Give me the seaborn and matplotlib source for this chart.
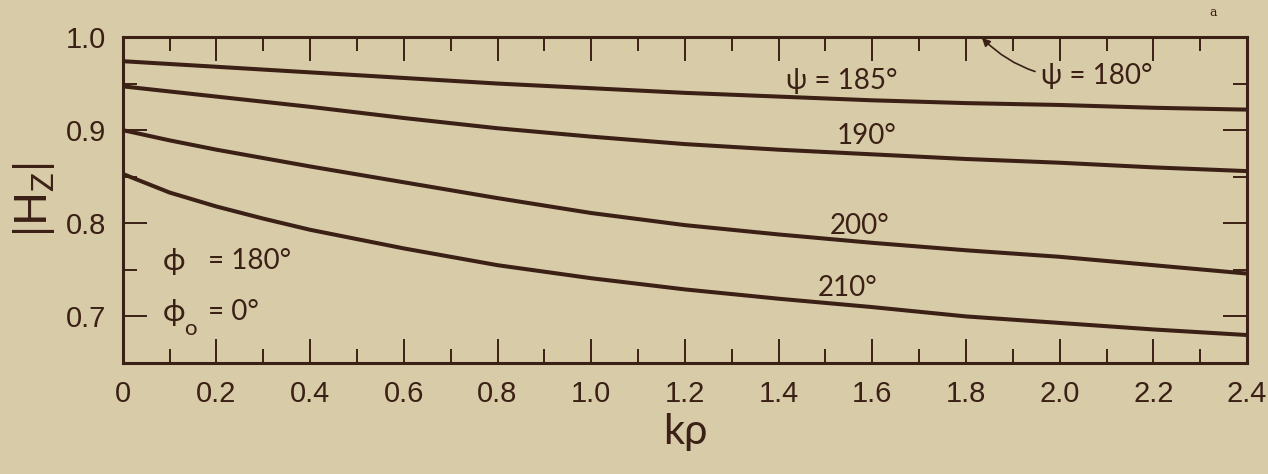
import matplotlib
matplotlib.use("Agg")
import matplotlib.pyplot as plt
import seaborn as sns
import pandas as pd
from matplotlib.ticker import MultipleLocator

# ---- data ----
x_185 = [0.0, 0.2, 0.4, 0.6, 0.8, 1.0, 1.2, 1.4, 1.6, 1.8, 2.0, 2.2, 2.4]
y_185 = [0.974, 0.968, 0.962, 0.956, 0.950, 0.945, 0.940, 0.936, 0.932, 0.929, 0.927, 0.924, 0.922]

x_190 = [0.0, 0.2, 0.4, 0.6, 0.8, 1.0, 1.2, 1.4, 1.6, 1.8, 2.0, 2.2, 2.4]
y_190 = [0.947, 0.936, 0.925, 0.913, 0.902, 0.893, 0.885, 0.879, 0.874, 0.869, 0.865, 0.860, 0.856]

x_200 = [0.0, 0.1, 0.2, 0.4, 0.6, 0.8, 1.0, 1.2, 1.4, 1.6, 1.8, 2.0, 2.2, 2.4]
y_200 = [0.900, 0.889, 0.879, 0.861, 0.844, 0.827, 0.811, 0.798, 0.788, 0.779, 0.771, 0.764, 0.755, 0.746]

x_210 = [0.0, 0.1, 0.2, 0.3, 0.4, 0.6, 0.8, 1.0, 1.2, 1.4, 1.6, 1.8, 2.0, 2.2, 2.4]
y_210 = [0.853, 0.833, 0.818, 0.805, 0.793, 0.773, 0.755, 0.741, 0.729, 0.719, 0.710, 0.700, 0.693, 0.686, 0.680]

psi_labels = ["\u03c8 = 185\u00b0", "190\u00b0", "200\u00b0", "210\u00b0"]
x_ticks = [0, 0.2, 0.4, 0.6, 0.8, 1.0, 1.2, 1.4, 1.6, 1.8, 2.0, 2.2, 2.4]
x_ticklabels = ["0", "0.2", "0.4", "0.6", "0.8", "1.0", "1.2", "1.4", "1.6", "1.8", "2.0", "2.2", "2.4"]
y_ticks = [0.7, 0.8, 0.9, 1.0]
y_ticklabels = ["0.7", "0.8", "0.9", "1.0"]

frames = []
for lab, xs, ys in [("185", x_185, y_185), ("190", x_190, y_190),
                    ("200", x_200, y_200), ("210", x_210, y_210)]:
    frames.append(pd.DataFrame({"kr": xs, "Hz": ys, "psi": lab}))
df = pd.concat(frames, ignore_index=True)

# ---- style ----
BG = "#d8cba7"
INK = "#3b2016"
sns.set_style("ticks")
plt.rcParams["font.family"] = ["Liberation Sans", "DejaVu Sans"]
plt.rcParams["mathtext.fontset"] = "custom"
plt.rcParams["mathtext.rm"] = "Lato"

fig = plt.figure(figsize=(12.68, 4.74), dpi=100, facecolor=BG)
ax = fig.add_axes([0.0968, 0.2342, 0.8867, 0.6878])
ax.set_facecolor(BG)

sns.lineplot(data=df, x="kr", y="Hz", units="psi", estimator=None,
             color=INK, linewidth=2.9, ax=ax, legend=False)

ax.set_xlim(0, 2.4)
ax.set_ylim(0.65, 1.0)

for s in ax.spines.values():
    s.set_color(INK)
    s.set_linewidth(2.2)

ax.set_xticks(x_ticks)
ax.set_xticklabels(x_ticklabels)
ax.set_yticks(y_ticks)
ax.set_yticklabels(y_ticklabels)
ax.xaxis.set_minor_locator(MultipleLocator(0.1))
ax.yaxis.set_minor_locator(MultipleLocator(0.05))
ax.tick_params(which="major", direction="in", length=17, width=1.4, color=INK,
               top=True, right=True, labelsize=21, labelcolor=INK)
ax.tick_params(axis="x", which="major", pad=12)
ax.tick_params(axis="y", which="major", pad=12)
ax.tick_params(which="minor", direction="in", length=10, width=1.4, color=INK,
               top=True, right=True)

txt = dict(family=["Lato", "DejaVu Sans"], color=INK)

ax.set_xlabel("k\u03c1", fontsize=30, labelpad=4, **txt)
ax.set_ylabel(r"$|\mathrm{H}_{\mathrm{Z}}|$", fontsize=32, labelpad=6, color=INK)

ax.text(1.535, 0.953, psi_labels[0], fontsize=20, ha="center", va="center", **txt)
ax.text(1.587, 0.894, psi_labels[1], fontsize=20, ha="center", va="center", **txt)
ax.text(1.574, 0.797, psi_labels[2], fontsize=20, ha="center", va="center", **txt)
ax.text(1.548, 0.731, psi_labels[3], fontsize=20, ha="center", va="center", **txt)

ax.annotate("\u03c8 = 180\u00b0", xy=(1.834, 0.999), xytext=(1.96, 0.958),
            fontsize=20, ha="left", va="center", **txt,
            arrowprops=dict(arrowstyle="-|>", color=INK, lw=1.2,
                            mutation_scale=12, shrinkA=2, shrinkB=0,
                            connectionstyle="arc3,rad=-0.25"))

# phi = 180 deg, phi_o = 0 deg
ax.text(0.086, 0.759, "\u03d5", fontsize=22, ha="left", va="center", **txt)
ax.text(0.182, 0.759, "= 180\u00b0", fontsize=20, ha="left", va="center", **txt)
ax.text(0.086, 0.705, "\u03d5", fontsize=22, ha="left", va="center", **txt)
ax.text(0.144, 0.687, "o", fontsize=16, ha="center", va="center", **txt)
ax.text(0.182, 0.705, "= 0\u00b0", fontsize=20, ha="left", va="center", **txt)

fig.text(1213 / 1268, 1 - 13 / 474, "a", fontsize=9, color=INK, ha="center", va="center",
         family="DejaVu Serif")

fig.savefig("out.png", dpi=100, facecolor=BG)
